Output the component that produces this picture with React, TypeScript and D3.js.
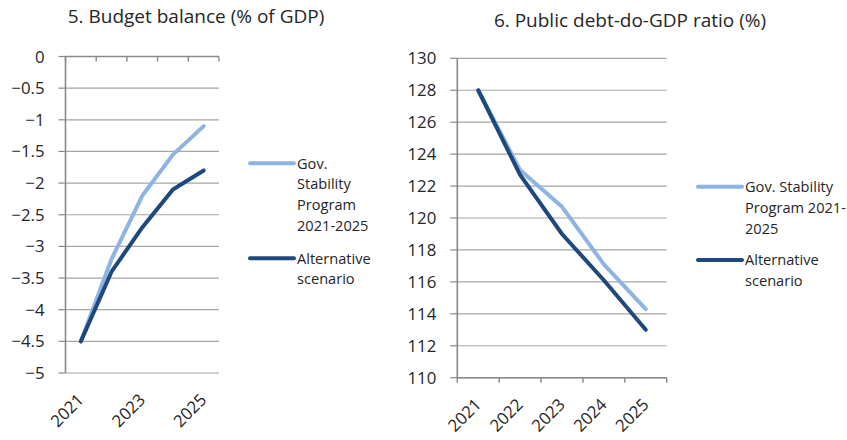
import React from "react";
import * as d3 from "d3";

const years = ["2021", "2022", "2023", "2024", "2025"];
const budgetLabelYears = ["2021", "2023", "2025"];
const budgetGov = [-4.5, -3.2, -2.2, -1.55, -1.1];
const budgetAlt = [-4.5, -3.4, -2.7, -2.1, -1.8];
const debtGov = [128, 123.0, 120.7, 117.1, 114.3];
const debtAlt = [128, 122.7, 119.0, 116.1, 113.0];
const budgetTicks = [0, -0.5, -1, -1.5, -2, -2.5, -3, -3.5, -4, -4.5, -5];
const debtTicks = [130, 128, 126, 124, 122, 120, 118, 116, 114, 112, 110];
const seriesNames = ["Gov. Stability Program 2021-2025", "Alternative scenario"];
const leftLegendLines = [["Gov.", "Stability", "Program", "2021-2025"], ["Alternative", "scenario"]];
const rightLegendLines = [["Gov. Stability", "Program 2021-", "2025"], ["Alternative", "scenario"]];

const LIGHT = "#8db4e2";
const DARK = "#1f497d";
const GRID = "#a6a6a6";
const AXIS = "#898989";
const TEXT = "#262626";
const FONT = "'Open Sans', Lato, sans-serif";

function fmt(v: number) {
  const s = String(Math.abs(v));
  return v < 0 ? "\u2212" + s : s;
}

type PanelProps = {
  title: string;
  titleX: number;
  titleY: number;
  x0: number;
  x1: number;
  yTop: number;
  yBot: number;
  domain: [number, number];
  ticks: number[];
  gov: number[];
  alt: number[];
  labelYears: string[];
  axisAtTop: boolean;
  legend: string[][];
  legendX: number;
  legendY: number;
  legendGap: number;
};

function Panel(p: PanelProps) {
  const x = d3.scaleBand<string>().domain(years).range([p.x0, p.x1]).padding(0);
  const y = d3.scaleLinear().domain(p.domain).range([p.yBot, p.yTop]);
  const cx = (d: string) => (x(d) as number) + x.bandwidth() / 2;
  const line = d3
    .line<number>()
    .x((_, i) => cx(years[i]))
    .y((v) => y(v));
  const axisY = p.axisAtTop ? p.yTop : p.yBot;
  const boundaries = years.map((d) => x(d) as number).concat([p.x1]);
  const lineH = 20.8;
  return (
    <g fontFamily={FONT} fill={TEXT}>
      <text x={p.titleX} y={p.titleY} textAnchor="middle" fontSize={19}>
        {p.title}
      </text>
      {p.ticks.map((t) => (
        <g key={t}>
          <line x1={p.x0} x2={p.x1} y1={y(t)} y2={y(t)} stroke={GRID} strokeWidth={1.2} />
          <line x1={p.x0 - 7} x2={p.x0} y1={y(t)} y2={y(t)} stroke={AXIS} strokeWidth={1.2} />
          <text x={p.x0 - 21} y={y(t)} dy="0.36em" textAnchor="end" fontSize={16.8}>
            {fmt(t)}
          </text>
        </g>
      ))}
      <line x1={p.x0} x2={p.x0} y1={p.yTop} y2={p.yBot} stroke={AXIS} strokeWidth={1.6} />
      <line x1={p.x0} x2={p.x1} y1={axisY} y2={axisY} stroke={AXIS} strokeWidth={1.4} />
      {boundaries.map((b, i) => (
        <line key={i} x1={b} x2={b} y1={axisY} y2={axisY + 5} stroke={AXIS} strokeWidth={1.4} />
      ))}
      {p.labelYears.map((d) => (
        <text
          key={d}
          transform={`translate(${cx(d) + 4},${p.yBot + 28}) rotate(-45)`}
          textAnchor="end"
          fontSize={16.8}
        >
          {d}
        </text>
      ))}
      <path d={line(p.gov) || ""} fill="none" stroke={LIGHT} strokeWidth={4} strokeLinejoin="round" strokeLinecap="round" />
      <path d={line(p.alt) || ""} fill="none" stroke={DARK} strokeWidth={4} strokeLinejoin="round" strokeLinecap="round" />
      {p.legend.map((lines, si) => {
        const yStart = si === 0 ? p.legendY : p.legendY + (p.legend[0].length - 1) * lineH + p.legendGap;
        return (
          <g key={si}>
            <title>{seriesNames[si]}</title>
            <line
              x1={p.legendX}
              x2={p.legendX + 44}
              y1={yStart}
              y2={yStart}
              stroke={si === 0 ? LIGHT : DARK}
              strokeWidth={4}
              strokeLinecap="round"
            />
            {lines.map((t, li) => (
              <text key={li} x={p.legendX + 47} y={yStart + li * lineH} dy="0.36em" fontSize={14.6}>
                {t}
              </text>
            ))}
          </g>
        );
      })}
    </g>
  );
}

export default function App() {
  return (
    <svg width={847} height={440} style={{ position: "absolute", left: 0, top: 0, background: "#fff" }}>
      <rect width={847} height={440} fill="#fff" />
      <Panel
        title="5. Budget balance (% of GDP)"
        titleX={196}
        titleY={23}
        x0={65.5}
        x1={219}
        yTop={56.5}
        yBot={373}
        domain={[-5, 0]}
        ticks={budgetTicks}
        gov={budgetGov}
        alt={budgetAlt}
        labelYears={budgetLabelYears}
        axisAtTop={true}
        legend={leftLegendLines}
        legendX={250}
        legendY={163.3}
        legendGap={32.6}
      />
      <Panel
        title="6. Public debt-do-GDP ratio (%)"
        titleX={630}
        titleY={27}
        x0={457.3}
        x1={666.7}
        yTop={58.3}
        yBot={377.7}
        domain={[110, 130]}
        ticks={debtTicks}
        gov={debtGov}
        alt={debtAlt}
        labelYears={years}
        axisAtTop={false}
        legend={rightLegendLines}
        legendX={698}
        legendY={186.7}
        legendGap={31.7}
      />
    </svg>
  );
}
